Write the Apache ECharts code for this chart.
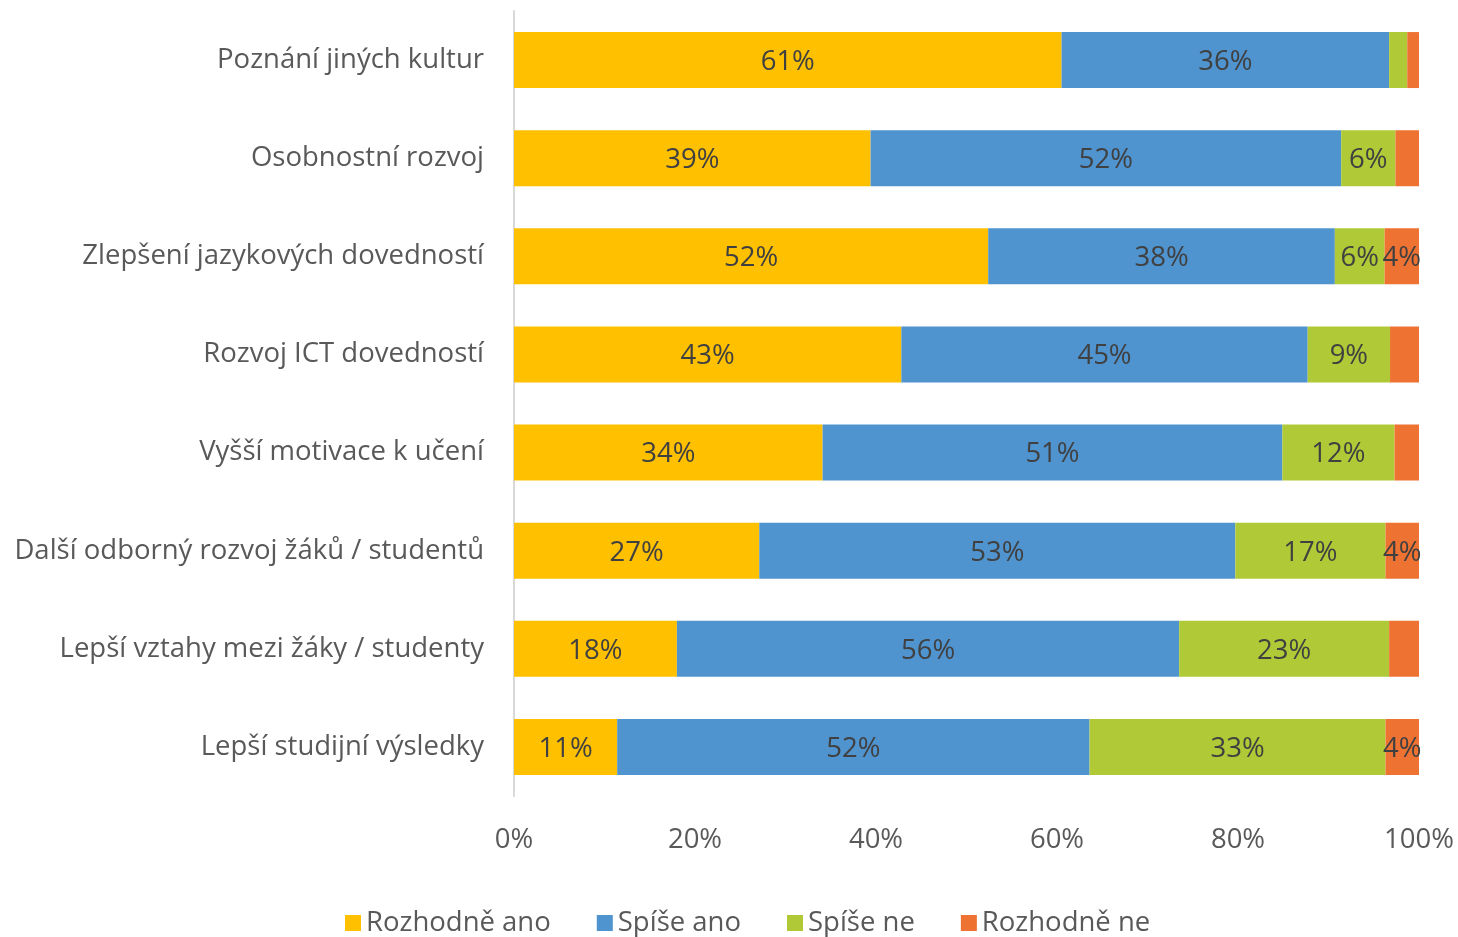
<!DOCTYPE html>
<html>
<head>
<meta charset="utf-8">
<script src="https://cdn.jsdelivr.net/npm/echarts@6/dist/echarts.min.js"></script>
<style>
html,body{margin:0;padding:0;background:#fff;}
#main{width:1458px;height:937px;}
</style>
</head>
<body>
<div id="main"></div>
<script>
// kategorie (odspodu nahoru, jak je kreslí osa y)
var categories = [
	'Lepší studijní výsledky',
	'Lepší vztahy mezi žáky / studenty',
	'Další odborný rozvoj žáků / studentů',
	'Vyšší motivace k učení',
	'Rozvoj ICT dovedností',
	'Zlepšení jazykových dovedností',
	'Osobnostní rozvoj',
	'Poznání jiných kultur'
];
var rozhodneAno = [11.4, 18.0, 27.1, 34.1, 42.8, 52.4, 39.4, 60.5];
var spiseAno    = [52.2, 55.5, 52.6, 50.8, 44.9, 38.3, 52.0, 36.2];
var spiseNe     = [32.7, 23.2, 16.6, 12.4, 9.1, 5.5, 6.0, 2.0];
var rozhodneNe  = [3.8, 3.3, 3.8, 2.7, 3.3, 3.8, 2.7, 1.3];
var xTicks = ['0%', '20%', '40%', '60%', '80%', '100%'];

var seriesNames = ['Rozhodně ano', 'Spíše ano', 'Spíše ne', 'Rozhodně ne'];
var seriesData = [rozhodneAno, spiseAno, spiseNe, rozhodneNe];
var colors = ['#FFC000', '#4F93CF', '#AFCA36', '#EE7232'];

var FONT = '"Open Sans", Lato, sans-serif';
var FS = 27.5;

var chart = echarts.init(document.getElementById('main'));

var series = [];
for (var i = 0; i < seriesNames.length; i++) {
	series.push({
		name: seriesNames[i],
		type: 'bar',
		stack: 'total',
		barWidth: 56,
		data: seriesData[i],
		itemStyle: { color: colors[i] },
		label: {
			show: true,
			position: 'inside',
			offset: [0, 2],
			color: '#404040',
			fontFamily: FONT,
			fontSize: FS,
			formatter: function (p) {
				// male hodnoty nejsou popsane
				return p.value < 3.5 ? '' : Math.round(p.value) + '%';
			}
		}
	});
}

var option = {
	backgroundColor: '#fff',
	animation: false,
	color: colors,
	grid: { left: 514, right: 39, top: 11, bottom: 141 },
	legend: {
		left: 340,
		top: 904,
		itemWidth: 16,
		itemHeight: 16,
		itemGap: 46,
		icon: 'rect',
		textStyle: { color: '#595959', fontFamily: FONT, fontSize: FS },
		data: seriesNames
	},
	xAxis: {
		type: 'value',
		min: 0,
		max: 100,
		interval: 20,
		axisLine: { show: false },
		axisTick: { show: false },
		splitLine: { show: false },
		axisLabel: {
			color: '#595959',
			fontFamily: FONT,
			fontSize: FS,
			margin: 30,
			formatter: function (v) { return xTicks[v / 20]; }
		}
	},
	yAxis: {
		type: 'category',
		data: categories,
		axisLine: { show: true, lineStyle: { color: '#D9D9D9', width: 2 } },
		axisTick: { show: false },
		axisLabel: {
			color: '#595959',
			fontFamily: FONT,
			fontSize: FS,
			margin: 30
		}
	},
	series: series
};

chart.setOption(option);
</script>
</body>
</html>
